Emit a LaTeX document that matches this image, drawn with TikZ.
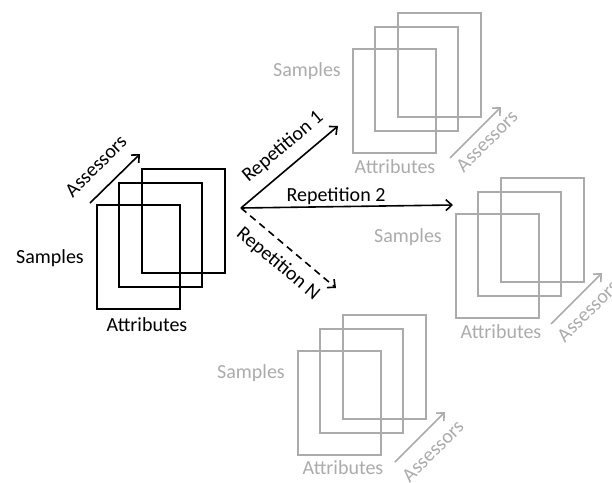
\documentclass[tikz,border=0pt]{standalone}
\usepackage{fontspec}
\setmainfont{Carlito}
\usetikzlibrary{arrows.meta}
\definecolor{repgray}{HTML}{ABABAB}
\tikzset{
  cubestack/.pic={
    \draw (0,0) rectangle (83,104);
    \draw (22,-22) rectangle (105,82);
    \draw (45,-36) rectangle (128,68);
  },
  lbl/.style={font=\fontsize{20}{24}\selectfont, inner sep=0pt},
  arr/.style={line width=1.6pt, -{Straight Barb[length=6pt,width=11pt,line width=1.6pt]}},
  box/.style={line width=1.3pt}
}
\begin{document}
\begin{tikzpicture}[x=1pt,y=-1pt]
\useasboundingbox (0,0) rectangle (612,482);
% left black stack
\pic[box] at (97,205) {cubestack};
\node[lbl] (s0) at (50,258) {Samples};
\node[lbl] (a0) at (147,325) {Attributes};
\coordinate (as0s) at (90,203);
\coordinate (as0e) at (140,154);
\draw[arr] (as0s) -- (as0e);
\node[lbl, rotate=45] (as0) at (96,166) {Assessors};
% origin of repetitions
\coordinate (o) at (241,208);
\coordinate (r1) at (338,126);
\coordinate (r2) at (453,205);
\coordinate (rn) at (336,288);
\draw[arr] (o) -- (r1);
\draw[arr] (o) -- (r2);
\draw[arr, dash pattern=on 7pt off 5pt] (o) -- (rn);
\node[lbl, rotate=40] (l1) at (283,147) {Repetition 1};
\node[lbl] (l2) at (336,196) {Repetition 2};
\node[lbl, rotate=-40] (ln) at (278,264) {Repetition N};
\begin{scope}[repgray]
% top right
\pic[box] at (353,49) {cubestack};
\node[lbl] (s1) at (307,71) {Samples};
\node[lbl] (a1) at (395,167) {Attributes};
\coordinate (as1s) at (450,158);
\coordinate (as1e) at (501,107);
\draw[arr] (as1s) -- (as1e);
\node[lbl, rotate=45] (as1) at (487,141) {Assessors};
% middle right
\pic[box] at (456,214) {cubestack};
\node[lbl] (s2) at (408,237) {Samples};
\node[lbl] (a2) at (501,332) {Attributes};
\coordinate (as2s) at (551,324);
\coordinate (as2e) at (602,273);
\draw[arr] (as2s) -- (as2e);
\node[lbl, rotate=45] (as2) at (588,311) {Assessors};
% bottom
\pic[box] at (298,351) {cubestack};
\node[lbl] (s3) at (251,373) {Samples};
\node[lbl] (a3) at (343,468) {Attributes};
\coordinate (as3s) at (395,462);
\coordinate (as3e) at (445,412);
\draw[arr] (as3s) -- (as3e);
\node[lbl, rotate=45] (as3) at (433,451) {Assessors};
\end{scope}
\end{tikzpicture}
\end{document}
